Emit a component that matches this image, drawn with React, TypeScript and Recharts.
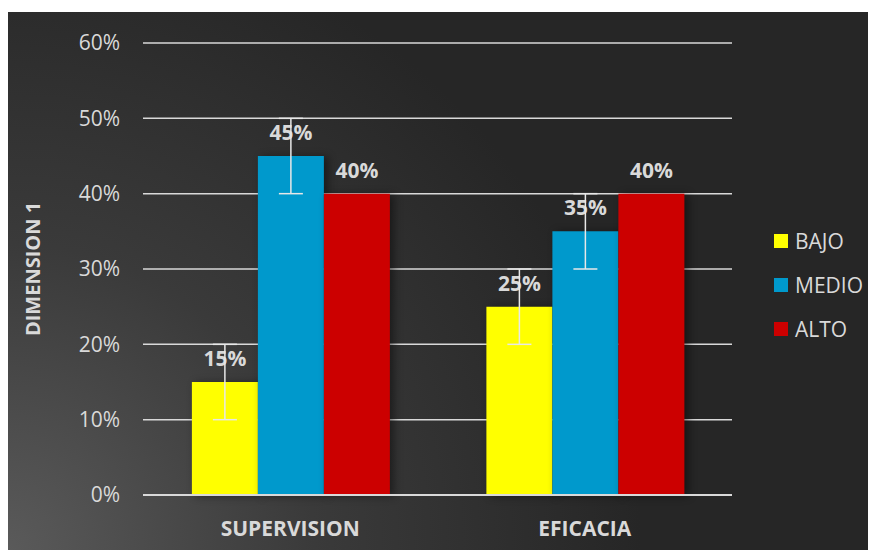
import React from "react";
import {
    BarChart,
    Bar,
    XAxis,
    YAxis,
    CartesianGrid,
    ErrorBar,
    LabelList,
    Legend
} from "recharts";

const categories = ["SUPERVISION", "EFICACIA"];
const bajo = [15, 25];
const medio = [45, 35];
const alto = [40, 40];
const bajoErr = [5, 5];
const medioErr = [5, 5];
const altoErr = [0, 0];
const yTicks = [0, 10, 20, 30, 40, 50, 60];

const series = [
    { key: "bajo", name: "BAJO", color: "#FFFF00" },
    { key: "medio", name: "MEDIO", color: "#0099CC" },
    { key: "alto", name: "ALTO", color: "#CC0000" }
];

const data = categories.map((name, i) => ({
    name,
    bajo: bajo[i],
    medio: medio[i],
    alto: alto[i],
    bajoErr: bajoErr[i],
    medioErr: medioErr[i],
    altoErr: altoErr[i]
}));

const textColor = "#D9D9D9";
const font = "'Open Sans', sans-serif";

function LegendBox() {
    return (
        <div style={{ fontFamily: font }}>
            {series.map((s) => (
                <div key={s.key} style={{ display: "flex", alignItems: "center", height: 44 }}>
                    <span style={{ width: 14, height: 14, background: s.color, display: "inline-block", marginRight: 7 }} />
                    <span style={{ color: textColor, fontSize: 21 }}>{s.name}</span>
                </div>
            ))}
        </div>
    );
}

export default function App() {
    return (
        <div
            style={{
                width: 868,
                height: 538,
                marginTop: 4,
                background: "radial-gradient(circle at 0% 100%, #5a5a5a 0%, #3a3a3a 30%, #262626 62%)"
            }}
        >
            <style>{`.recharts-bar-rectangle path { filter: drop-shadow(4px 1px 4px rgba(0,0,0,0.45)); }`}</style>
            <BarChart
                width={868}
                height={538}
                data={data}
                margin={{ top: 31, right: 144, bottom: 0, left: 0 }}
                barCategoryGap="16.6%"
                barGap={0}
            >
                <CartesianGrid vertical={false} stroke={textColor} strokeWidth={1.5} />
                <XAxis
                    dataKey="name"
                    height={55}
                    tickLine={false}
                    axisLine={{ stroke: textColor, strokeWidth: 2 }}
                    tickMargin={20}
                    tick={{ fill: textColor, fontSize: 21, fontWeight: 700, fontFamily: font }}
                />
                <YAxis
                    width={135}
                    domain={[0, 60]}
                    ticks={yTicks}
                    tickFormatter={(v) => `${v}%`}
                    tickLine={false}
                    axisLine={false}
                    tickMargin={17}
                    tick={{ fill: textColor, fontSize: 21, fontFamily: font }}
                    label={{
                        value: "DIMENSION 1",
                        angle: -90,
                        position: "insideLeft",
                        offset: 25,
                        fill: textColor,
                        fontSize: 20,
                        fontWeight: 700,
                        fontFamily: font,
                        style: { textAnchor: "middle" }
                    }}
                />
                <Legend
                    layout="vertical"
                    align="center"
                    verticalAlign="middle"
                    wrapperStyle={{ left: 766, top: 207, width: 100 }}
                    content={() => <LegendBox />}
                />
                {series.map((s) => (
                    <Bar key={s.key} dataKey={s.key} name={s.name} fill={s.color} isAnimationActive={false}>
                        <LabelList
                            dataKey={s.key}
                            position="top"
                            offset={16}
                            formatter={(v: any) => `${v}%`}
                            fill={textColor}
                            fontSize={21}
                            fontWeight={700}
                            fontFamily={font}
                        />
                        <ErrorBar
                            dataKey={`${s.key}Err`}
                            width={12}
                            stroke="#E8E8E8"
                            strokeWidth={1.5}
                            direction="y"
                            zIndex={3000}
                        />
                    </Bar>
                ))}
            </BarChart>
        </div>
    );
}
